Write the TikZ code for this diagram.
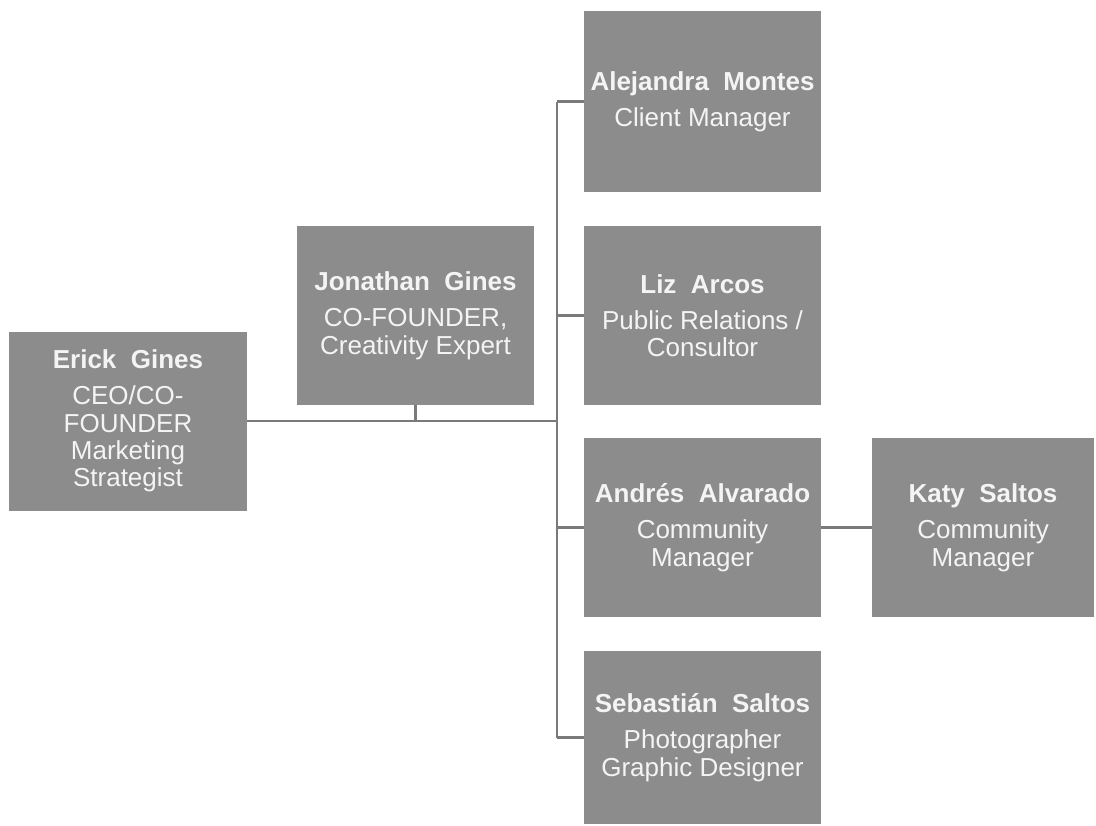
\documentclass[tikz,border=0pt]{standalone}
\usepackage{fontspec}
\setmainfont{Liberation Sans}
\definecolor{boxgray}{HTML}{8C8C8C}
\definecolor{linegray}{HTML}{7A7A7A}
\definecolor{textwhite}{HTML}{F4F4F4}
\begin{document}
\begin{tikzpicture}[
    member/.style={fill=boxgray, draw=none, text=textwhite, align=center,
      minimum width=4.74cm, minimum height=3.58cm, inner sep=0pt,
      font=\fontsize{14.8}{15.6}\selectfont},
    link/.style={draw=linegray, line width=1.5pt}]
    \useasboundingbox (0,0) rectangle (21.92,-16.5);
    \node[member] (erick) at (2.56,-8.42) {\textbf{Erick\ \ Gines}\\[5pt]CEO/CO-\\FOUNDER\\Marketing\\Strategist};
    \node[member] (jonathan) at (8.31,-6.31) {\textbf{Jonathan\ \ Gines}\\[5pt]CO-FOUNDER,\\Creativity Expert};
    \node[member, minimum height=3.62cm] (alejandra) at (14.05,-2.03) {\textbf{Alejandra\ \ Montes}\\[5pt]Client Manager};
    \node[member] (liz) at (14.05,-6.31) {\textbf{Liz\ \ Arcos}\\[5pt]Public Relations /\\Consultor};
    \node[member] (andres) at (14.05,-10.55) {\textbf{Andrés\ \ Alvarado}\\[5pt]Community\\Manager};
    \node[member, minimum width=4.44cm] (katy) at (19.66,-10.55) {\textbf{Katy\ \ Saltos}\\[5pt]Community\\Manager};
    \node[member, minimum height=3.46cm] (sebastian) at (14.05,-14.75) {\textbf{Sebastián\ \ Saltos}\\[5pt]Photographer\\Graphic Designer};
    % trunk
    \coordinate (hub) at (11.14,-8.42);
    \draw[link] (erick.east) -- (hub);
    \draw[link] (jonathan.south) -- (jonathan.south |- hub);
    \draw[link] (alejandra.west -| hub) -- (sebastian.west -| hub);
    \draw[link] (alejandra.west -| hub) -- (alejandra.west);
    \draw[link] (liz.west -| hub) -- (liz.west);
    \draw[link] (andres.west -| hub) -- (andres.west);
    \draw[link] (sebastian.west -| hub) -- (sebastian.west);
    \draw[link] (andres.east) -- (katy.west);
\end{tikzpicture}
\end{document}
